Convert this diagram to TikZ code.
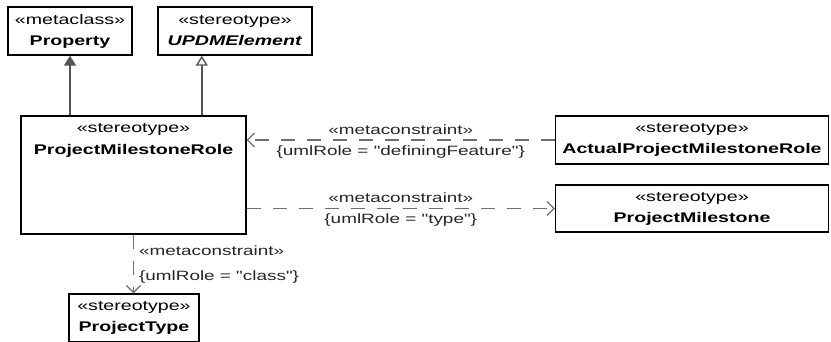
\documentclass[tikz,border=0pt]{standalone}
\usepackage{fontspec}
\setmainfont{Liberation Sans}[FakeStretch=1.4,Ligatures=TeXOff]
\usetikzlibrary{arrows.meta}
\definecolor{linegray}{RGB}{85,85,85}
\definecolor{dashgray}{RGB}{110,110,110}
\tikzset{
  stereobox/.style={
    % The shape:
    rectangle,
    % The border:
    draw=black,line width=1.4pt,
    % The text:
    align=center,inner sep=2pt,
    font=\fontsize{14}{21}\selectfont},
  boxtext/.style={
    align=center,inner sep=8pt,
    font=\fontsize{14}{22}\selectfont},
  constraint/.style={
    % The line:
    dashgray,line width=1.2pt,dash pattern=on 14pt off 12pt,
    % The tip:
    -{Straight Barb[length=7pt,width=14pt,line width=1.2pt]}},
  cnlabel/.style={
    text=black!85,inner sep=5pt,
    font=\fontsize{13.5}{16}\selectfont}
}

\begin{document}
\begin{tikzpicture}[x=1pt,y=-1pt,
                    extension/.style={linegray,line width=1.8pt,
                      -{Triangle[length=10pt,width=12pt,fill=linegray]}},
                    generalization/.style={linegray,line width=1.8pt,
                      -{Triangle[open,length=10pt,width=12pt,fill=white,line width=1.4pt]}}]
  \useasboundingbox (0,0) rectangle (831,341);
  \clip (0,0) rectangle (831,341);

  % the classes
  \node (property) [stereobox,minimum width=124pt,minimum height=48pt] at (70,31)
        {«metaclass»\\\textbf{Property}};
  \node (updm) [stereobox,minimum width=154pt,minimum height=48pt] at (235,31)
        {«stereotype»\\\textbf{\textit{UPDMElement}}};
  \node (pmr) [stereobox,minimum width=225pt,minimum height=118pt] at (133.5,175)
        {};
  \node (pmrtext) [boxtext,anchor=north] at (pmr.north)
        {«stereotype»\\\textbf{ProjectMilestoneRole}};
  \node (apmr) [stereobox,minimum width=273pt,minimum height=48pt] at (692,140)
        {«stereotype»\\\textbf{ActualProjectMilestoneRole}};
  \node (pm) [stereobox,minimum width=273pt,minimum height=47pt] at (692,208.5)
        {«stereotype»\\\textbf{ProjectMilestone}};
  \node (ptype) [stereobox,minimum width=130pt,minimum height=48pt] at (134,318)
        {«stereotype»\\\textbf{ProjectType}};

  % the arrows
  \draw[extension] (property.south |- pmr.north) -- (property.south);
  \draw[generalization] ([xshift=44.5pt]updm.south west |- pmr.north)
        -- ([xshift=44.5pt]updm.south west);
  \draw[constraint] (apmr.west) -- (pmr.east |- apmr.west)
        node[cnlabel,midway,above] {«metaconstraint»}
        node[cnlabel,midway,below] {\{umlRole = "definingFeature"\}};
  \draw[constraint] (pmr.east |- pm.west) -- (pm.west)
        node[cnlabel,midway,above] {«metaconstraint»}
        node[cnlabel,midway,below] {\{umlRole = "type"\}};
  \draw[constraint] (pmr.south) -- (pmr.south |- ptype.north)
        node[cnlabel,pos=.28,right] {«metaconstraint»}
        node[cnlabel,pos=.72,right] {\{umlRole = "class"\}};
\end{tikzpicture}
\end{document}
